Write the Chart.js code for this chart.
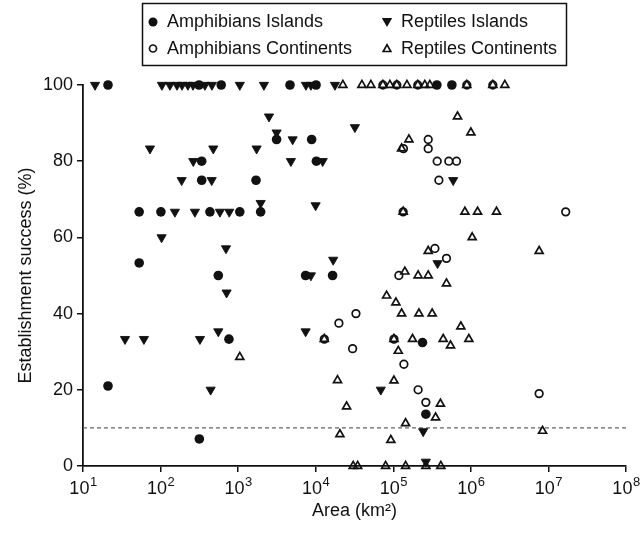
<!DOCTYPE html>
<html>
<head>
<meta charset="utf-8">
<script src="https://cdn.jsdelivr.net/npm/chart.js@4.4.1/dist/chart.umd.min.js"></script>
<style>
  html, body { margin: 0; padding: 0; background: #fff; }
  #wrap { width: 640px; height: 533px; }
</style>
</head>
<body>
<div id="wrap"><canvas id="chart" width="640" height="533"></canvas></div>
<script>
// Amphibians introduced to islands (area km2, success %)
const amphIslandsArea = [21, 313, 605, 4660, 10100, 365000, 569000, 3130, 8860, 339, 10200, 339, 1700,
  53, 101, 433, 1050, 1950, 53, 555, 7410, 16500, 761, 238000, 263000, 21, 316];
const amphIslandsSuccess = [100, 100, 100, 100, 100, 100, 100, 85.7, 85.7, 80, 80, 75, 75,
  66.7, 66.7, 66.7, 66.7, 66.7, 53.3, 50, 50, 50, 33.3, 32.4, 13.6, 21, 7.1];

// Reptiles introduced to islands
const reptIslandsArea = [14.3, 104, 132, 163, 189, 225, 262, 373, 459, 1050, 2150, 7480, 8670, 17700,
  2500, 32000, 3130, 5040, 73, 478, 1730, 264, 4790, 12300, 187, 456, 592000,
  153, 277, 582, 768, 9970, 1950, 103, 697, 16800, 372000, 8670, 710,
  34.8, 61, 322, 555, 7410, 442, 69000, 243000, 263000];
const reptIslandsSuccess = [100, 100, 100, 100, 100, 100, 100, 100, 100, 100, 100, 100, 100, 100,
  91.7, 88.9, 87.5, 85.7, 83.3, 83.3, 83.3, 80, 80, 80, 75, 75, 75,
  66.7, 66.7, 66.7, 66.7, 68.4, 69, 60, 57.1, 54.1, 53.2, 50, 45.5,
  33.3, 33.3, 33.3, 35.3, 35.3, 20, 20, 9.1, 1.1];

// Amphibians introduced to continents
const amphContinentsArea = [73500, 111000, 207000, 887000, 1920000, 282000, 135000, 282000, 368000, 520000,
  653000, 387000, 134000, 16700000, 344000, 485000, 118000, 33000, 19900, 12900, 102000, 29900,
  137000, 209000, 263000, 7590000];
const amphContinentsSuccess = [100, 100, 100, 100, 100, 85.7, 83.3, 83.3, 80, 80,
  80, 75, 66.7, 66.7, 57.1, 54.5, 50, 40, 37.5, 33.3, 33.3, 30.8,
  26.7, 20, 16.7, 19];

// Reptiles introduced to continents
const reptContinentsArea = [22400, 39400, 51400, 73500, 90400, 111000, 150000, 207000, 255000, 296000, 887000, 1920000, 2740000,
  673000, 1000000, 159000, 128000, 134000, 838000, 1220000, 2140000, 1040000, 7590000, 282000, 141000, 209000, 282000, 485000,
  82000, 108000, 128000, 214000, 317000, 743000, 12900, 102000, 177000, 440000, 942000, 547000, 116000, 1050,
  19100, 102000, 25000, 405000, 351000, 144000, 8400000, 20500, 93000,
  30400, 34700, 79600, 144000, 263000, 410000];
const reptContinentsSuccess = [100, 100, 100, 100, 100, 100, 100, 100, 100, 100, 100, 100, 100,
  91.7, 87.5, 85.7, 83.3, 66.7, 66.7, 66.7, 66.7, 60, 56.4, 56.4, 51, 50, 50, 47.9,
  44.7, 42.9, 40, 40, 40, 36.6, 33.3, 33.3, 33.3, 33.3, 33.3, 31.6, 30.2, 28.6,
  22.5, 22.4, 15.6, 16.3, 12.7, 11.2, 9.2, 8.3, 6.8,
  0, 0, 0, 0, 0, 0];

// 10% threshold line and axis ticks
const thresholdArea = [10, 1e8];
const thresholdSuccess = [10, 10];
const areaTicks = [1e1, 1e2, 1e3, 1e4, 1e5, 1e6, 1e7, 1e8];

const INK = '#111';
const FONT = "'Liberation Sans', Arial, Helvetica, sans-serif";

function toPoints(xs, ys) {
    return xs.map((x, i) => ({ x: x, y: ys[i] }));
}

// draws one of the four marker kinds (used for the legend box)
function drawMarker(ctx, kind, x, y) {
    ctx.beginPath();
    if (kind === 'dot') {
        ctx.arc(x, y, 4.5, 0, Math.PI * 2);
        ctx.fill();
    } else if (kind === 'ring') {
        ctx.lineWidth = 1.7;
        ctx.arc(x, y, 3.5, 0, Math.PI * 2);
        ctx.stroke();
    } else if (kind === 'down') {
        ctx.moveTo(x - 5.2, y - 4);
        ctx.lineTo(x + 5.2, y - 4);
        ctx.lineTo(x, y + 5);
        ctx.closePath();
        ctx.fill();
    } else {
        ctx.lineWidth = 1.7;
        ctx.lineJoin = 'miter';
        ctx.moveTo(x - 3.8, y + 3);
        ctx.lineTo(x + 3.8, y + 3);
        ctx.lineTo(x, y - 3.8);
        ctx.closePath();
        ctx.stroke();
    }
}

const legendSlots = [
    { kind: 'dot', x: 153, y: 22 },
    { kind: 'down', x: 387, y: 22 },
    { kind: 'ring', x: 153, y: 48.5 },
    { kind: 'up', x: 387, y: 48.5 }
];

const paperDecor = {
    id: 'paperDecor',
    afterDraw(chart) {
        const ctx = chart.ctx;
        const xs = chart.scales.x;
        ctx.save();
        ctx.fillStyle = INK;
        ctx.strokeStyle = INK;
        ctx.textAlign = 'left';
        ctx.textBaseline = 'alphabetic';

        // x tick labels as 10 with superscript exponent
        areaTicks.forEach(v => {
            const px = xs.getPixelForValue(v);
            const exp = String(Math.round(Math.log10(v)));
            ctx.font = '18px ' + FONT;
            const wBase = ctx.measureText('10').width;
            ctx.font = '13px ' + FONT;
            const wExp = ctx.measureText(exp).width;
            const left = px - (wBase + wExp) / 2;
            ctx.font = '18px ' + FONT;
            ctx.fillText('10', left, 494);
            ctx.font = '13px ' + FONT;
            ctx.fillText(exp, left + wBase + 0.5, 486);
        });

        // legend box
        ctx.lineWidth = 1.5;
        ctx.strokeRect(142.5, 3.5, 424, 62);
        ctx.font = '18px ' + FONT;
        ctx.textBaseline = 'middle';
        legendSlots.forEach((slot, i) => {
            drawMarker(ctx, slot.kind, slot.x, slot.y);
            ctx.fillText(chart.data.datasets[i].label, slot.x + 14, slot.y + 0.5);
        });
        ctx.restore();
    }
};

Chart.defaults.font.family = FONT;
Chart.defaults.font.size = 18;
Chart.defaults.color = INK;

const axisGrid = {
    display: true,
    drawOnChartArea: false,
    drawTicks: true,
    tickLength: 6,
    color: INK,
    lineWidth: 1.5
};

new Chart(document.getElementById('chart'), {
    type: 'scatter',
    data: {
        datasets: [
            {
                label: 'Amphibians Islands',
                data: toPoints(amphIslandsArea, amphIslandsSuccess),
                pointStyle: 'circle',
                pointRadius: 4.8,
                pointBackgroundColor: INK,
                pointBorderColor: INK,
                pointBorderWidth: 0,
                clip: false
            },
            {
                label: 'Reptiles Islands',
                data: toPoints(reptIslandsArea, reptIslandsSuccess),
                pointStyle: 'triangle',
                pointRotation: 180,
                pointRadius: 5.3,
                pointBackgroundColor: INK,
                pointBorderColor: INK,
                pointBorderWidth: 0.9,
                clip: false
            },
            {
                label: 'Amphibians Continents',
                data: toPoints(amphContinentsArea, amphContinentsSuccess),
                pointStyle: 'circle',
                pointRadius: 3.8,
                pointBackgroundColor: 'rgba(0,0,0,0)',
                pointBorderColor: INK,
                pointBorderWidth: 1.7,
                clip: false
            },
            {
                label: 'Reptiles Continents',
                data: toPoints(reptContinentsArea, reptContinentsSuccess),
                pointStyle: 'triangle',
                pointRadius: 4.6,
                pointBackgroundColor: 'rgba(0,0,0,0)',
                pointBorderColor: INK,
                pointBorderWidth: 1.7,
                clip: false
            },
            {
                label: 'threshold',
                type: 'line',
                data: toPoints(thresholdArea, thresholdSuccess),
                borderColor: '#666',
                borderWidth: 1.2,
                borderDash: [4, 3],
                pointRadius: 0,
                showLine: true,
                fill: false
            }
        ]
    },
    options: {
        responsive: false,
        animation: false,
        events: [],
        layout: { padding: { top: 85, right: 14, left: 0, bottom: 0 } },
        plugins: {
            legend: { display: false },
            tooltip: { enabled: false }
        },
        scales: {
            x: {
                type: 'logarithmic',
                min: 10,
                max: 1e8,
                afterBuildTicks(scale) {
                    scale.ticks = areaTicks.map(v => ({ value: v }));
                },
                ticks: { display: false },
                grid: axisGrid,
                border: { display: true, color: INK, width: 1.8 },
                title: {
                    display: true,
                    text: 'Area (km²)',
                    font: { size: 18 },
                    padding: { top: 0, bottom: 11 }
                },
                afterFit(scale) { scale.height = 67; }
            },
            y: {
                min: 0,
                max: 100,
                ticks: { stepSize: 20, padding: 4, color: INK, font: { size: 18 } },
                grid: axisGrid,
                border: { display: true, color: INK, width: 1.8 },
                title: {
                    display: true,
                    text: 'Establishment success (%)',
                    font: { size: 18 },
                    padding: { top: 15, bottom: 0 }
                },
                afterFit(scale) { scale.width = 83; }
            }
        }
    },
    plugins: [paperDecor]
});
</script>
</body>
</html>
